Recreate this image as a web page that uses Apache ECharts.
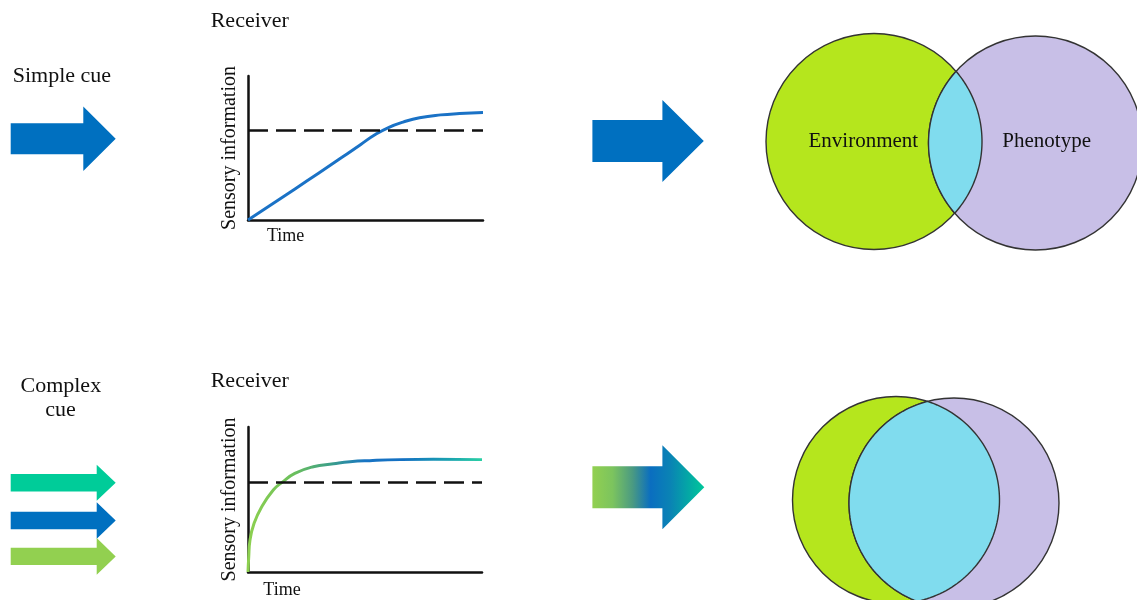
<!DOCTYPE html>
<html><head><meta charset="utf-8">
<script src="https://cdn.jsdelivr.net/npm/echarts@6/dist/echarts.min.js"></script>
<style>html,body{margin:0;padding:0;background:#fff}#c{width:1137px;height:600px}</style>
</head><body><div id="c"></div>
<script>
// ---------- data ----------
const timeTop = [0, 1, 2, 3, 4, 4.8, 5.4, 6, 6.6, 7.3, 8.2, 9, 10];
const infoTop = [0, 1.08, 2.16, 3.25, 4.35, 5.25, 5.92, 6.44, 6.8, 7.1, 7.3, 7.39, 7.46];
const thresholdTop = 6.25;
const timeBottom = [0, 0.03, 0.085, 0.26, 0.585, 1.08, 1.44, 2.0, 2.79, 3.65, 4.36, 5.2, 6.5, 7.92, 10];
const infoBottom = [0, 1.0, 2.2, 3.36, 4.5, 5.66, 6.16, 6.8, 7.26, 7.46, 7.6, 7.68, 7.75, 7.77, 7.75];
const thresholdBottom = 6.16;
const vennSets = ['Environment', 'Phenotype'];
const cueLabels = ['Simple cue', 'Complex', 'cue'];
const panelTitle = 'Receiver';
const xName = 'Time';
const yName = 'Sensory information';

// ---------- diagram glyphs in page space (x 0..1137, y 0..600) ----------
// [tailX, neckX, tipX, centerY, bodyHalf, headHalf]
const arrowGeom = [
  [10.7, 83.3, 115.7, 138.8, 15.5, 32.2],
  [10.7, 96.7, 115.7, 482.8, 8.8, 18],
  [10.7, 96.7, 115.7, 520.5, 8.8, 18.3],
  [10.7, 96.7, 115.7, 556.4, 8.7, 18.3],
  [592.4, 662.4, 703.8, 141, 21, 41],
  [592.4, 662.4, 704.3, 487.3, 21, 42]
];
// [cx1, cy1, r1, cx2, cy2, r2]
const vennGeom = [
  [874, 141.5, 108, 1035.5, 143, 107],
  [896, 500, 103.5, 954, 503, 105]
];

const serif = '"Liberation Serif", "Times New Roman", serif';
const BLUE = '#0070c0', TEAL = '#00cc99', GREEN = '#92d050';
const arrowFills = [
  BLUE, TEAL, BLUE, GREEN, BLUE,
  new echarts.graphic.LinearGradient(0, 0, 1, 0, [
    {offset: 0, color: '#92d050'}, {offset: 0.18, color: '#7cc45e'},
    {offset: 0.36, color: '#4a9a82'}, {offset: 0.52, color: '#0a6ec0'},
    {offset: 0.7, color: '#0a84b4'}, {offset: 0.85, color: '#04a6a6'},
    {offset: 1, color: '#00c89a'}
  ])
];

const chart = echarts.init(document.getElementById('c'), null, {renderer: 'canvas'});

function txt(text, x, y, size, align) {
  return {type: 'text', x: x, y: y, z: 100, zlevel: 0, silent: true,
    style: {text: text, fill: '#111', fontSize: size, fontFamily: serif,
      align: align || 'left', verticalAlign: 'middle'}};
}
function plotX(gi) {
  return {gridIndex: gi, type: 'value', min: 0, max: 10,
    axisLine: {show: true, lineStyle: {color: '#111', width: 2.5}},
    axisTick: {show: false}, axisLabel: {show: false}, splitLine: {show: false}};
}
function plotY(gi) {
  return {gridIndex: gi, type: 'value', min: 0, max: 10,
    name: yName, nameLocation: 'middle', nameGap: 8, nameRotate: 90,
    nameTextStyle: {fontFamily: serif, fontSize: 20, color: '#111'},
    axisLine: {show: true, lineStyle: {color: '#111', width: 2.5}},
    axisTick: {show: false}, axisLabel: {show: false}, splitLine: {show: false}};
}
function threshold(v) {
  return {silent: true, symbol: 'none', label: {show: false},
    lineStyle: {color: '#111', width: 2.5, type: [20, 8]},
    data: [{yAxis: v}]};
}

const option = {
  animation: false,
  backgroundColor: '#fff',
  grid: [
    {left: 248, top: 76, width: 235, height: 144, outerBoundsMode: 'none'},
    {left: 248, top: 427, width: 234, height: 145, outerBoundsMode: 'none'},
    {left: 0, top: 0, width: 1137, height: 600, outerBoundsMode: 'none'}
  ],
  xAxis: [plotX(0), plotX(1),
    {gridIndex: 2, type: 'value', min: 0, max: 1137, show: false}],
  yAxis: [plotY(0), plotY(1),
    {gridIndex: 2, type: 'value', min: 0, max: 600, inverse: true, show: false}],
  series: [
    {
      type: 'custom', xAxisIndex: 2, yAxisIndex: 2, clip: false, silent: true, z: 1,
      data: vennGeom,
      renderItem: function (params, api) {
        const c1 = api.coord([api.value(0), api.value(1)]);
        const r1 = api.size([api.value(2), 0])[0];
        const c2 = api.coord([api.value(3), api.value(4)]);
        const r2 = api.size([api.value(5), 0])[0];
        const dx = c2[0] - c1[0], dy = c2[1] - c1[1], d = Math.hypot(dx, dy);
        const a = (r1 * r1 - r2 * r2 + d * d) / (2 * d);
        const h = Math.sqrt(Math.max(0, r1 * r1 - a * a));
        const px = c1[0] + a * dx / d, py = c1[1] + a * dy / d;
        const ux = -dy / d, uy = dx / d;
        const P = [[px + h * ux, py + h * uy], [px - h * ux, py - h * uy]].sort((p, q) => p[1] - q[1]);
        const Pt = P[0], Pb = P[1];
        const pts = [];
        const N = 80;
        const t0 = Math.atan2(Pt[1] - c1[1], Pt[0] - c1[0]);
        const t1 = Math.atan2(Pb[1] - c1[1], Pb[0] - c1[0]);
        for (let i = 0; i <= N; i++) {
          const t = t0 + (t1 - t0) * i / N;
          pts.push([c1[0] + r1 * Math.cos(t), c1[1] + r1 * Math.sin(t)]);
        }
        const s0 = Math.atan2(Pb[1] - c2[1], Pb[0] - c2[0]);
        let s1 = Math.atan2(Pt[1] - c2[1], Pt[0] - c2[0]);
        if (s1 < s0) s1 += 2 * Math.PI;
        for (let i = 1; i < N; i++) {
          const s = s0 + (s1 - s0) * i / N;
          pts.push([c2[0] + r2 * Math.cos(s), c2[1] + r2 * Math.sin(s)]);
        }
        const st = {stroke: '#333', lineWidth: 1.4};
        return {type: 'group', children: [
          {type: 'circle', shape: {cx: c1[0], cy: c1[1], r: r1}, style: Object.assign({fill: '#b5e61d'}, st)},
          {type: 'circle', shape: {cx: c2[0], cy: c2[1], r: r2}, style: Object.assign({fill: '#c8bfe7'}, st)},
          {type: 'polygon', shape: {points: pts}, style: Object.assign({fill: '#80dcee'}, st)}
        ]};
      }
    },
    {
      type: 'custom', xAxisIndex: 2, yAxisIndex: 2, clip: false, silent: true, z: 1,
      data: arrowGeom,
      renderItem: function (params, api) {
        const tail = api.value(0), neck = api.value(1), tip = api.value(2);
        const cy = api.value(3), bh = api.value(4), hh = api.value(5);
        const raw = [[tail, cy - bh], [neck, cy - bh], [neck, cy - hh], [tip, cy],
          [neck, cy + hh], [neck, cy + bh], [tail, cy + bh]];
        return {type: 'polygon', shape: {points: raw.map(p => api.coord(p))},
          style: {fill: arrowFills[params.dataIndex]}};
      }
    },
    {
      type: 'line', xAxisIndex: 0, yAxisIndex: 0,
      data: timeTop.map((t, i) => [t, infoTop[i]]),
      showSymbol: false, smooth: 0.5,
      lineStyle: {color: '#1a72c6', width: 3},
      markLine: threshold(thresholdTop)
    },
    {
      type: 'line', xAxisIndex: 1, yAxisIndex: 1,
      data: timeBottom.map((t, i) => [t, infoBottom[i]]),
      showSymbol: false, smooth: 0.5,
      lineStyle: {width: 3, color: new echarts.graphic.LinearGradient(0, 0, 1, 0, [
        {offset: 0, color: '#8fd14f'}, {offset: 0.2, color: '#6cc05c'},
        {offset: 0.36, color: '#3a9e8a'}, {offset: 0.5, color: '#1874c4'},
        {offset: 0.66, color: '#1470c2'}, {offset: 0.85, color: '#1aa2b0'},
        {offset: 1, color: '#2bd3a3'}
      ])},
      markLine: threshold(thresholdBottom)
    }
  ],
  graphic: {elements: [
    txt(panelTitle, 210.7, 21.5, 22),
    txt(panelTitle, 210.7, 381.3, 22),
    txt(cueLabels[0], 12.7, 75.8, 22),
    txt(cueLabels[1], 60.8, 386, 22, 'center'),
    txt(cueLabels[2], 60.5, 410, 22, 'center'),
    txt(xName, 267, 236.5, 18),
    txt(xName, 263.3, 590.3, 18),
    txt(vennSets[0], 863.3, 141.7, 21, 'center'),
    txt(vennSets[1], 1046.7, 141.2, 21, 'center')
  ]}
};
chart.setOption(option);
</script>
</body></html>
